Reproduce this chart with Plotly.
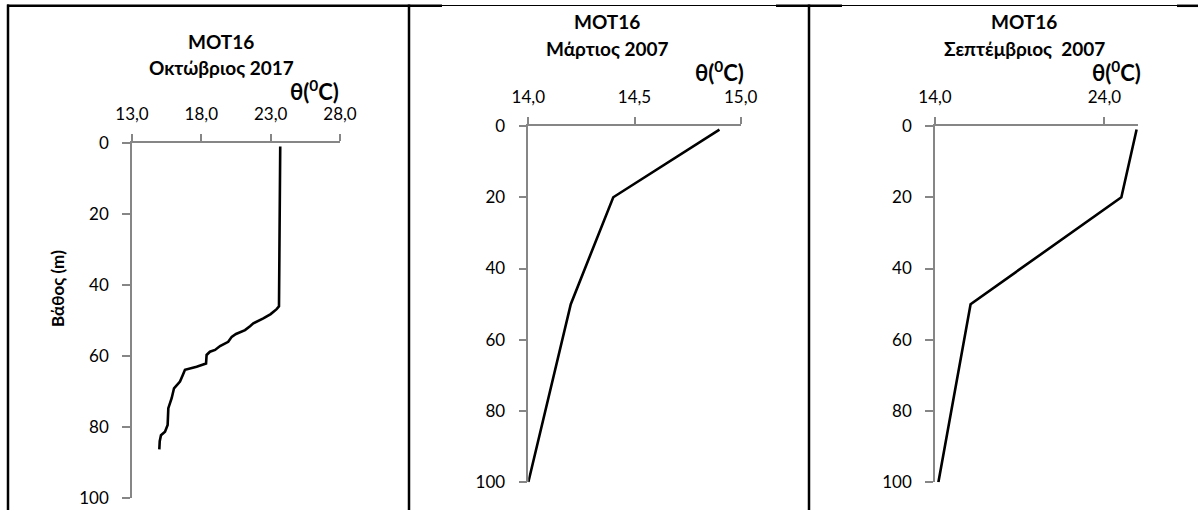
import plotly.graph_objects as go

W, H = 1198, 510

# ---------------- data ----------------
oct_depth = [1, 10, 20, 30, 40, 46, 46.8, 48.2, 49.4, 50.8, 51.6, 52.7, 53.8, 54.6, 56.0,
             57.2, 58.3, 58.8, 59.7, 62.1, 63.0, 63.9, 65.5, 67.2, 69.1, 71.9, 74.7, 79.4,
             81.3, 82.3, 84.0, 86.3]
oct_temp = [23.69, 23.68, 23.67, 23.65, 23.63, 23.60, 23.43, 23.0, 22.47, 21.75, 21.51, 21.15,
            20.5, 20.19, 19.94, 19.35, 18.99, 18.62, 18.38, 18.34, 17.66, 16.82, 16.65, 16.46,
            16.03, 15.86, 15.62, 15.57, 15.38, 15.09, 15.0, 14.97]

mar_depth = [1, 20, 50, 100]
mar_temp = [14.90, 14.40, 14.20, 14.00]

sep_depth = [1, 20, 50, 100]
sep_temp = [25.9, 25.0, 16.1, 14.2]

titles = ["MOT16", "MOT16", "MOT16"]
subtitles = ["Οκτώβριος 2017", "Μάρτιος 2007", "Σεπτέμβριος  2007"]

x1_ticks = [13, 18, 23, 28]
x1_labels = ["13,0", "18,0", "23,0", "28,0"]
x2_ticks = [14.0, 14.5, 15.0]
x2_labels = ["14,0", "14,5", "15,0"]
x3_ticks = [14, 24]
x3_labels = ["14,0", "24,0"]
y_ticks = [0, 20, 40, 60, 80, 100]
y_labels = ["0", "20", "40", "60", "80", "100"]

x_label = "θ(<sup>0</sup>C)"
y_label = "Βάθος (m)"


def fx(px):
    return px / W


def fy(py):
    return 1 - py / H


FONT = "Lato"
AX_COLOR = "#868686"

fig = go.Figure()
fig.add_trace(go.Scatter(x=oct_temp, y=oct_depth, mode="lines", line=dict(color="black", width=2.6),
                         xaxis="x", yaxis="y", showlegend=False))
fig.add_trace(go.Scatter(x=mar_temp, y=mar_depth, mode="lines", line=dict(color="black", width=2.6),
                         xaxis="x2", yaxis="y2", showlegend=False))
fig.add_trace(go.Scatter(x=sep_temp, y=sep_depth, mode="lines", line=dict(color="black", width=2.6),
                         xaxis="x3", yaxis="y3", showlegend=False))

panels = [
    dict(xd=(132, 340), yd=(143, 498), xr=[13, 28], xt=x1_ticks, xl=x1_labels),
    dict(xd=(528.3, 740.7), yd=(126, 482.3), xr=[14, 15], xt=x2_ticks, xl=x2_labels),
    dict(xd=(935, 1138.3), yd=(126, 482.3), xr=[14, 26], xt=x3_ticks, xl=x3_labels),
]

layout = dict(
    width=W, height=H, margin=dict(l=0, r=0, t=0, b=0, pad=0, autoexpand=False),
    paper_bgcolor="white", plot_bgcolor="white",
    font=dict(family=FONT, color="black", size=17),
)

for i, p in enumerate(panels):
    sfx = "" if i == 0 else str(i + 1)
    layout["xaxis" + sfx] = dict(
        domain=[fx(p["xd"][0]), fx(p["xd"][1])], range=p["xr"], side="top",
        anchor="y" + sfx, tickmode="array", tickvals=p["xt"], ticktext=p["xl"],
        showline=True, linecolor=AX_COLOR, linewidth=1.5, ticks="outside", ticklen=7,
        tickcolor=AX_COLOR, tickwidth=1.5, showgrid=False, zeroline=False, automargin=False,
        tickfont=dict(family=FONT, size=17, color="black"), ticklabelstandoff=7,
    )
    layout["yaxis" + sfx] = dict(
        domain=[fy(p["yd"][1]), fy(p["yd"][0])], range=[100, 0],
        anchor="x" + sfx, tickmode="array", tickvals=y_ticks, ticktext=y_labels,
        showline=True, linecolor=AX_COLOR, linewidth=1.5, ticks="outside", ticklen=8,
        tickcolor=AX_COLOR, tickwidth=1.5, showgrid=False, zeroline=False, automargin=False,
        tickfont=dict(family=FONT, size=17, color="black"), ticklabelstandoff=10,
    )

fig.update_layout(**layout)

ann = []
title_pos = [(221, 41, 68), (607, 22, 48), (1024, 22, 48)]
for (cx, y1, y2), t, s in zip(title_pos, titles, subtitles):
    ann.append(dict(text="<b>%s</b>" % t, x=fx(cx), y=fy(y1), xref="paper", yref="paper",
                    xanchor="center", yanchor="middle", showarrow=False,
                    font=dict(family=FONT, size=19, color="black")))
    ann.append(dict(text="<b>%s</b>" % s, x=fx(cx), y=fy(y2), xref="paper", yref="paper",
                    xanchor="center", yanchor="middle", showarrow=False,
                    font=dict(family=FONT, size=19, color="black")))

for rx, cy in [(341, 90), (746, 72), (1143, 72)]:
    ann.append(dict(text="<b>%s</b>" % x_label, x=fx(rx), y=fy(cy), xref="paper", yref="paper",
                    xanchor="right", yanchor="middle", showarrow=False,
                    font=dict(family=FONT, size=22, color="black")))

ann.append(dict(text="<b>%s</b>" % y_label, x=fx(57), y=fy(289), xref="paper", yref="paper",
                xanchor="center", yanchor="middle", showarrow=False, textangle=-90,
                font=dict(family=FONT, size=17, color="black")))

shapes = []


def hline(x0, x1, y, w):
    shapes.append(dict(type="line", xref="paper", yref="paper", x0=fx(x0), x1=fx(x1),
                       y0=fy(y), y1=fy(y), line=dict(color="black", width=w)))


def vline(x, y0, y1, w):
    shapes.append(dict(type="line", xref="paper", yref="paper", x0=fx(x), x1=fx(x),
                       y0=fy(y0), y1=fy(y1), line=dict(color="black", width=w)))


hline(8, 1198, 5.5, 1)
hline(7, 442, 5.8, 2.5)
hline(776, 842, 5.8, 2.5)
hline(1177, 1198, 5.8, 2.5)
vline(8, 4.6, 510, 2.5)
vline(409, 4.6, 510, 2.5)
vline(809, 4.6, 510, 2.5)

fig.update_layout(annotations=ann, shapes=shapes)
fig.write_html("out.html")
